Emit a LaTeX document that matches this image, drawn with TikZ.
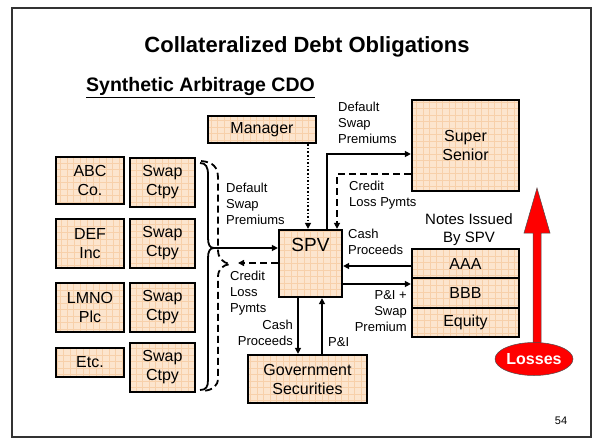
\documentclass[tikz,border=0pt]{standalone}
\usepackage{fontspec}
\setmainfont{Liberation Sans}
\usetikzlibrary{arrows.meta,shapes.geometric,calc}
\definecolor{peach}{RGB}{252,229,206}
\definecolor{gridc}{RGB}{247,208,170}
\definecolor{redl}{RGB}{255,0,0}
\begin{document}
\begin{tikzpicture}[x=1pt,y=-1pt,
 box/.style={draw=black, line width=2.3pt, fill=peach, inner sep=0pt, align=center,
   font=\fontsize{16}{19}\selectfont,
   path picture={\draw[gridc, line width=0.25pt] (path picture bounding box.south west) grid[step=6.5pt] (path picture bounding box.north east);}},
 lbl/.style={font=\fontsize{13}{16}\selectfont, inner sep=0pt},
 arr/.style={line width=1.8pt, -{Triangle[length=6pt,width=6pt]}},
 darr/.style={arr, dash pattern=on 7pt off 4pt},
 dotarr/.style={arr, dash pattern=on 1.6pt off 2pt},
 brace/.style={line width=1.8pt},
 dbrace/.style={line width=1.8pt, dash pattern=on 7pt off 4pt}
]
\useasboundingbox (0,0) rectangle (602,444);
\draw[line width=2pt, black!80] (12,8) rectangle (591,437);

\node[font=\bfseries\fontsize{22}{26}\selectfont] (title) at (307,47) {Collateralized Debt Obligations};
\node[font=\bfseries\fontsize{19.5}{23}\selectfont, anchor=west, inner sep=0pt] (sub) at (86,88) {\underline{Synthetic Arbitrage CDO}};

% left column
\node[box, minimum width=68, minimum height=47] (abc) at (90,180.5) {ABC\\Co.};
\node[box, minimum width=65, minimum height=49] (sw1) at (162.5,182.5) {Swap\\Ctpy};
\node[box, minimum width=68, minimum height=49] (def) at (90,243.5) {DEF\\Inc};
\node[box, minimum width=65, minimum height=49] (sw2) at (162.5,243.5) {Swap\\Ctpy};
\node[box, minimum width=68, minimum height=49] (lmno) at (90,307.5) {LMNO\\Plc};
\node[box, minimum width=65, minimum height=49] (sw3) at (162.5,307.5) {Swap\\Ctpy};
\node[box, minimum width=68, minimum height=29] (etc) at (90,362.5) {Etc.};
\node[box, minimum width=65, minimum height=49] (sw4) at (162.5,367.5) {Swap\\Ctpy};

% center
\node[box, minimum width=108, minimum height=27] (mgr) at (262,129.5) {Manager};
\node[box, minimum width=63, minimum height=67,
  label={[font=\fontsize{19}{22}\selectfont, anchor=north, yshift=-6pt]north:SPV}] (spv) at (310.5,263.5) {};
\node[box, minimum width=119, minimum height=48] (gov) at (307.5,379) {Government\\Securities};

% right
\node[box, minimum width=107, minimum height=91] (ss) at (465.5,145.5) {Super\\Senior};
\node[box, minimum width=107, minimum height=29] (aaa) at (465.5,263.5) {AAA};
\node[box, minimum width=107, minimum height=30] (bbb) at (465.5,293) {BBB};
\node[box, minimum width=107, minimum height=29] (eq) at (465.5,322.5) {Equity};

% braces
\coordinate (bcusp) at (214,248);
\coordinate (dcusp) at (230,264);
\coordinate (dend) at (238,263);
\draw[brace] (200,163) .. controls (206,163) and (208,167) .. (208,175) -- (208,238)
  .. controls (208,245) and (210,248) .. (bcusp)
  .. controls (210,248) and (208,251) .. (208,258) -- (208,380)
  .. controls (208,387) and (206,390) .. (200,390);
\draw[dbrace] (201,161) .. controls (213,162) and (218,167) .. (218,178) -- (218,250)
  .. controls (218,258) and (223,263) .. (dcusp)
  .. controls (223,265) and (218,269) .. (218,277) -- (218,378)
  .. controls (218,386) and (213,390) .. (203,391);
\draw[arr] (bcusp) -- (spv.west |- bcusp);
\draw[darr] (spv.west |- dend) -- (dend);

% connectors
\coordinate (xa) at (308,0);
\coordinate (xb) at (327,154);
\coordinate (xc) at (337,174);
\coordinate (yd) at (0,266);
\coordinate (ye) at (0,284);
\coordinate (xf) at (298,0);
\coordinate (xg) at (322,0);
\draw[dotarr] (mgr.south -| xa) -- (spv.north -| xa);
\draw[arr] (spv.north -| xb) |- (ss.west |- xb);
\draw[darr] (ss.west |- xc) -| (spv.north -| xc);
\draw[arr] (aaa.west |- yd) -- (spv.east |- yd);
\draw[arr] (spv.east |- ye) -- (bbb.west |- ye);
\draw[arr] (spv.south -| xf) -- (gov.north -| xf);
\draw[arr] (gov.north -| xg) -- (spv.south -| xg);

% labels
\node[lbl, anchor=north west, align=left] (l1) at (338,102) {Default\\Swap\\Premiums};
\node[lbl, anchor=north west, align=left] (l2) at (349,181) {Credit\\Loss Pymts};
\node[inner sep=0pt, font=\fontsize{15}{18}\selectfont, anchor=north, align=center] (l3) at (469,213) {Notes Issued\\By SPV};
\node[lbl, anchor=north west, align=left] (l4) at (348,229) {Cash\\Proceeds};
\node[lbl, anchor=north east, align=right] (l5) at (407,290) {P\&I +\\Swap\\Premium};
\node[lbl, anchor=north east, align=right] (l6) at (293,320) {Cash\\Proceeds};
\node[lbl, anchor=north west, align=left] (l7) at (328,337) {P\&I};
\node[lbl, anchor=north west, align=left] (l8) at (226,183) {Default\\Swap\\Premiums};
\node[lbl, anchor=north west, align=left] (l9) at (230,271) {Credit\\Loss\\Pymts};

% losses arrow
\fill[redl, draw=black!70, line width=0.5pt] (533,344) -- (533,233) -- (524,233) -- (537,188) -- (550,233) -- (541,233) -- (541,344) -- cycle;
\node[ellipse, fill=redl, draw=black!70, line width=0.5pt, minimum width=78, minimum height=33, inner sep=0pt,
  font=\bfseries\fontsize{16}{18}\selectfont, text=white] (loss) at (534,359) {Losses};

\node[font=\fontsize{11}{13}\selectfont, inner sep=0pt] (pg) at (561,421) {54};
\end{tikzpicture}
\end{document}
